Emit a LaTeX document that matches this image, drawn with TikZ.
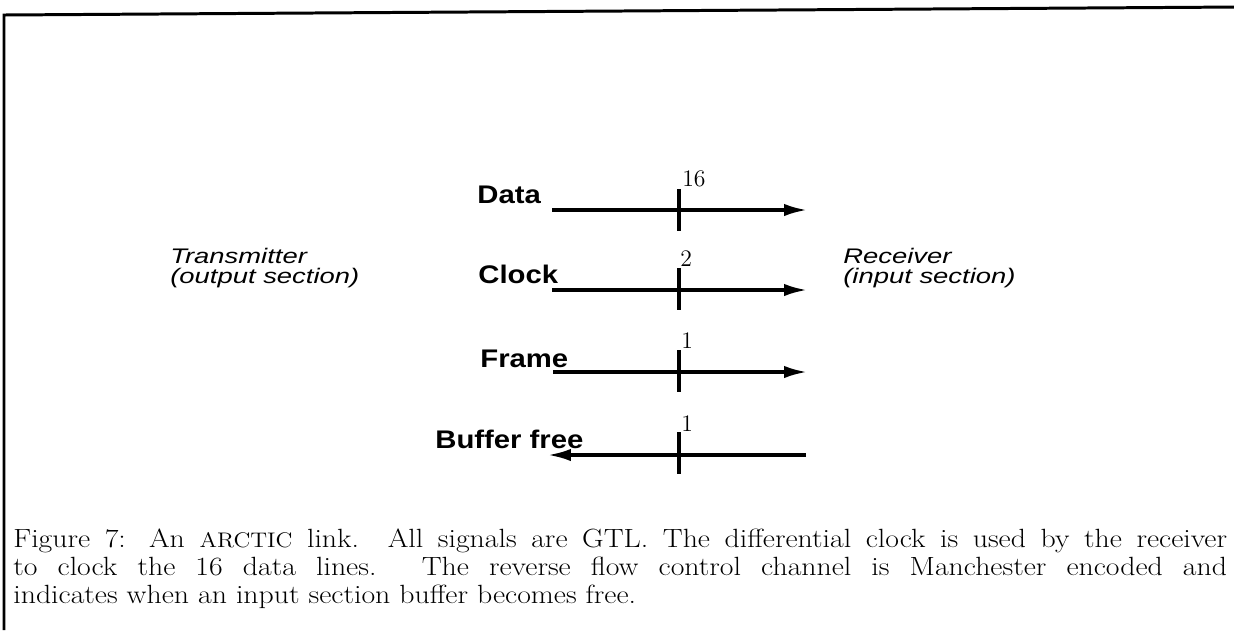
\documentclass[tikz,border=0pt]{standalone}
\usepackage{fontspec}
\newfontfamily\sigfont{Liberation Sans}[FakeStretch=1.15]
\newfontfamily\endfont{Liberation Sans}[FakeStretch=1.3]
\newfontfamily\capfont{Latin Modern Roman}[FakeStretch=1.13]
\usetikzlibrary{arrows.meta}

\newcommand{\capline}[1]{\hbox to 24.28cm{#1}}

\tikzset{
  sig/.style={line width=1.8pt},
  tickline/.style={line width=1.8pt},
  signame/.style={font=\fontsize{14.5}{16}\selectfont\sigfont\bfseries, inner sep=0pt, anchor=base west},
  buswidth/.style={font=\fontsize{13.5}{14}\selectfont, inner sep=0pt, anchor=base west},
  endlabel/.style={font=\fontsize{12}{11}\selectfont\endfont\itshape, inner sep=0pt, anchor=base west, align=left},
}

\begin{document}
\begin{tikzpicture}[>={Latex[length=13pt,width=7pt]},x=0.02cm,y=-0.02cm]

\clip (0,0) rectangle (1234,630);

% page frame
\draw[line width=1.7pt] (4,630) -- (4,15) -- (1240,7);

% the two ends
\node[endlabel] (tx) at (170,283) {Transmitter\\(output section)};
\node[endlabel] (rx) at (843,283) {Receiver\\(input section)};

% signal names
\node[signame] (data) at (477,203) {Data};
\node[signame] (clk) at (478,283) {Clock};
\node[signame] (frm) at (480,367) {Frame};
\node[signame] (buf) at (435,448) {Buffer free};

% line ends
\coordinate (dA) at (552,210);
\coordinate (dB) at (807,210);
\coordinate (cA) at (552,290);
\coordinate (cB) at (807,290);
\coordinate (fA) at (553,372);
\coordinate (fB) at (807,372);
\coordinate (bA) at (806,455);
\coordinate (bB) at (548,455);

\draw[sig,->] (dA) -- (dB);
\draw[sig,->] (cA) -- (cB);
\draw[sig,->] (fA) -- (fB);
\draw[sig,->] (bA) -- (bB);

% bus widths
\coordinate (dT) at (679,189);
\coordinate (dU) at (679,231);
\coordinate (cT) at (679,268);
\coordinate (cU) at (679,310);
\coordinate (fT) at (679,350);
\coordinate (fU) at (679,392);
\coordinate (bT) at (679,432);
\coordinate (bU) at (679,474);

\draw[tickline] (dT) -- (dU);
\draw[tickline] (cT) -- (cU);
\draw[tickline] (fT) -- (fU);
\draw[tickline] (bT) -- (bU);

\node[buswidth] (dN) at (682,186) {16};
\node[buswidth] (cN) at (680,266) {2};
\node[buswidth] (fN) at (681,348) {1};
\node[buswidth] (bN) at (681,431) {1};

% caption
\node[anchor=north west, inner sep=0pt, align=left,
      font=\fontsize{15}{15.9}\selectfont\capfont] (cap) at (13,529)
  {\capline{Figure 7: An {\fontsize{12}{12}\selectfont ARCTIC} link. All signals are GTL. The differential clock is used by the receiver}\\
   \capline{to clock the 16 data lines. The reverse flow control channel is Manchester encoded and}\\
   indicates when an input section buffer becomes free.};

\end{tikzpicture}
\end{document}
